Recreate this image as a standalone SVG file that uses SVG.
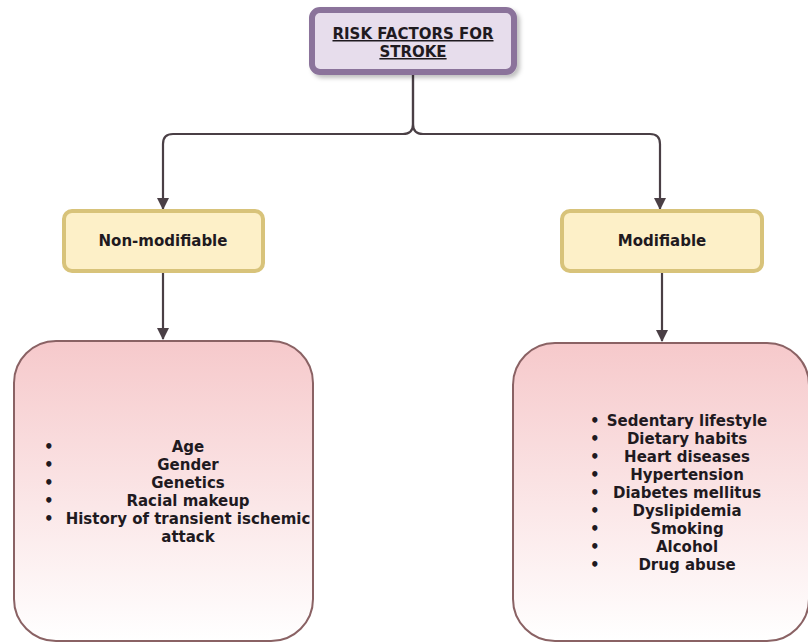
<svg xmlns="http://www.w3.org/2000/svg" width="808" height="643" viewBox="0 0 808 643">
<defs>
<linearGradient id="pink" x1="0" y1="0" x2="0" y2="1">
<stop offset="0" stop-color="#f6c9cb"/>
<stop offset="1" stop-color="#ffffff"/>
</linearGradient>
<marker id="arr" markerWidth="12" markerHeight="12" viewBox="0 0 12 12" refX="11" refY="6" orient="auto" markerUnits="userSpaceOnUse">
<path d="M0,0 L12,6 L0,12 Z" fill="#4a3f45"/>
</marker>
<filter id="sh" x="-10%" y="-10%" width="130%" height="140%">
<feDropShadow dx="3" dy="3" stdDeviation="2" flood-color="#000" flood-opacity="0.25"/>
</filter>
</defs>
<style>
.t{font-family:"DejaVu Sans","Liberation Sans",sans-serif;font-weight:bold;font-size:15px;fill:#1f1a1f;text-anchor:middle}
.b{font-family:"DejaVu Sans","Liberation Sans",sans-serif;font-weight:bold;font-size:15px;fill:#1f1a1f}
.conn{fill:none;stroke:#4a3f45;stroke-width:2.2}
.yel{fill:#fdf0c8;stroke:#d8c37a;stroke-width:4}
.pk{fill:url(#pink);stroke:#8a6264;stroke-width:2}
</style>
<rect width="808" height="643" fill="#ffffff"/>
<g id="connectors">
<path class="conn" d="M413,72 V124 Q413,134 403,134 H173 Q163,134 163,144 V209" marker-end="url(#arr)"/>
<path class="conn" d="M413,72 V124 Q413,134 423,134 H650 Q660,134 660,144 V209" marker-end="url(#arr)"/>
<path class="conn" d="M163,272 V339" marker-end="url(#arr)"/>
<path class="conn" d="M662,272 V341" marker-end="url(#arr)"/>
</g>
<g id="root">
<rect x="312" y="10" width="202" height="62" rx="8" fill="#e7ddec" stroke="#8b739b" stroke-width="6" filter="url(#sh)"/>
<text class="t" x="413" y="39" text-decoration="underline">RISK FACTORS FOR</text>
<text class="t" x="413" y="57" text-decoration="underline">STROKE</text>
</g>
<g id="nonmod">
<rect class="yel" x="64" y="211" width="199" height="60" rx="8"/>
<text class="t" x="163" y="246">Non-modifiable</text>
</g>
<g id="mod">
<rect class="yel" x="562" y="211" width="200" height="60" rx="8"/>
<text class="t" x="662" y="246">Modifiable</text>
</g>
<g id="nonmod-list">
<rect class="pk" x="14" y="341" width="299" height="300" rx="42"/>
<g class="b">
<text x="44" y="452">•</text><text x="44" y="470">•</text><text x="44" y="488">•</text><text x="44" y="506">•</text><text x="44" y="524">•</text>
</g>
<text class="t" x="188" y="452">Age</text>
<text class="t" x="188" y="470">Gender</text>
<text class="t" x="188" y="488">Genetics</text>
<text class="t" x="188" y="506">Racial makeup</text>
<text class="t" x="188" y="524">History of transient ischemic</text>
<text class="t" x="188" y="542">attack</text>
</g>
<g id="mod-list">
<rect class="pk" x="513" y="343" width="296" height="298" rx="42"/>
<g class="b">
<text x="590" y="426">•</text><text x="590" y="444">•</text><text x="590" y="462">•</text><text x="590" y="480">•</text><text x="590" y="498">•</text><text x="590" y="516">•</text><text x="590" y="534">•</text><text x="590" y="552">•</text><text x="590" y="570">•</text>
</g>
<text class="t" x="687" y="426">Sedentary lifestyle</text>
<text class="t" x="687" y="444">Dietary habits</text>
<text class="t" x="687" y="462">Heart diseases</text>
<text class="t" x="687" y="480">Hypertension</text>
<text class="t" x="687" y="498">Diabetes mellitus</text>
<text class="t" x="687" y="516">Dyslipidemia</text>
<text class="t" x="687" y="534">Smoking</text>
<text class="t" x="687" y="552">Alcohol</text>
<text class="t" x="687" y="570">Drug abuse</text>
</g>
</svg>
